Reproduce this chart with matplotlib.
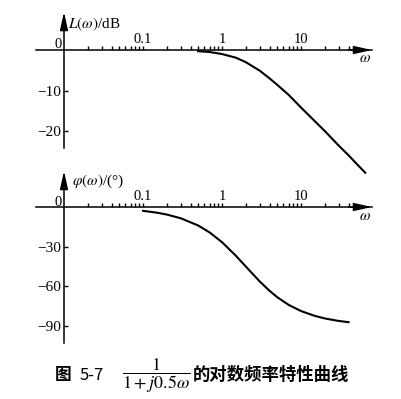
import numpy as np
import matplotlib
matplotlib.use("Agg")
import matplotlib.pyplot as plt
from matplotlib.ticker import NullFormatter

plt.rcParams["font.family"] = ["Liberation Serif", "DejaVu Serif"]
plt.rcParams["mathtext.fontset"] = "stix"

# --- values ----------------------------------------------------------
w_mag = [0.5, 0.7, 1, 1.5, 2, 3, 4, 5, 7, 10, 15, 20, 30, 40, 50, 65]
L_db = [-0.3, -0.5, -1.0, -1.9, -3.0, -5.1, -7.0, -8.6, -11.1, -14.2,
        -17.6, -20.0, -23.6, -26.0, -28.0, -30.3]

w_ph = [0.1, 0.15, 0.2, 0.3, 0.5, 0.7, 1, 1.5, 2, 3, 4, 5, 7, 10, 15, 20, 30, 40]
phi_deg = [-2.9, -4.3, -5.7, -8.5, -14.0, -19.3, -26.6, -36.9, -45.0, -56.3,
           -63.4, -68.2, -74.1, -78.7, -82.4, -84.3, -86.2, -87.1]

w_major = [0.1, 1, 10]
w_major_labels = ["0.1", "1", "10"]
w_minor = [m * 10.0 ** e for e in (-2, -1, 0, 1) for m in range(2, 10) if m * 10.0 ** e <= 40]

L_ticks = [-20, -10]
L_tick_labels = ["\u221220", "\u221210"]
phi_ticks = [-90, -60, -30]
phi_tick_labels = ["\u221290", "\u221260", "\u221230"]

# --- layout helpers (pixel coords of the 401x399 picture) -------------
W, H = 401, 399
X0_PX, DEC_PX = 64, 79  # omega = 0.01 at x=64, one decade = 79 px


def rect(x0, y0, x1, y1):
    return [x0 / W, 1 - y1 / H, (x1 - x0) / W, (y1 - y0) / H]


def wlim(x0, x1):
    return 10 ** (-2 + (x0 - X0_PX) / DEC_PX), 10 ** (-2 + (x1 - X0_PX) / DEC_PX)


def ftext(x, y, s, **kw):
    fig.text(x / W, 1 - y / H, s, **kw)


fig = plt.figure(figsize=(W / 100, H / 100), dpi=100)

arrow = dict(arrowstyle="-|>,head_length=0.9,head_width=0.2", color="k",
             lw=1.1, mutation_scale=12, shrinkA=0, shrinkB=0)


def setup(ax, yticks, ylabels, ybottom):
    ax.set_xscale("log")
    ax.patch.set_visible(False)
    for s in ("right", "bottom"):
        ax.spines[s].set_visible(False)
    ax.spines["top"].set_position(("data", 0))
    ax.spines["left"].set_position(("data", 0.01))
    ax.spines["top"].set_linewidth(1.1)
    ax.spines["left"].set_linewidth(1.1)
    ax.spines["left"].set_bounds(ybottom, ax.get_ylim()[1] * 0.9)
    ax.xaxis.tick_top()
    ax.set_xticks(w_major)
    ax.set_xticklabels(w_major_labels)
    ax.set_xticks(w_minor, minor=True)
    ax.xaxis.set_minor_formatter(NullFormatter())
    ax.tick_params(axis="x", which="both", direction="out", length=3, width=1,
                   pad=0, labelsize=10.5)
    ax.set_yticks(yticks)
    ax.set_yticklabels(ylabels)
    ax.tick_params(axis="y", direction="in", length=3, width=1, pad=2, labelsize=11)
    ax.annotate("", xy=(1, 0), xycoords=("axes fraction", "data"),
                xytext=(0.93, 0), textcoords=("axes fraction", "data"),
                arrowprops=arrow, annotation_clip=False)
    ax.annotate("", xy=(0.01, 1), xycoords=("data", "axes fraction"),
                xytext=(0.01, 0.9), textcoords=("data", "axes fraction"),
                arrowprops=arrow, annotation_clip=False)


# --- magnitude ----------------------------------------------------------
ax1 = fig.add_axes(rect(36, 12, 372, 178))
ax1.set_xlim(*wlim(36, 372))
ax1.set_ylim(-(178 - 50) / 4.05, (50 - 12) / 4.05)
ax1.plot(w_mag, L_db, color="k", lw=1.5, clip_on=False)
setup(ax1, L_ticks, L_tick_labels, -24.2)

# --- phase ----------------------------------------------------------------
ax2 = fig.add_axes(rect(36, 171, 372, 344))
ax2.set_xlim(*wlim(36, 372))
ax2.set_ylim(-(344 - 207) / 1.322, (207 - 171) / 1.322)
ax2.plot(w_ph, phi_deg, color="k", lw=1.5, clip_on=False)
setup(ax2, phi_ticks, phi_tick_labels, -103)

# --- labels ---------------------------------------------------------------
ftext(58.5, 44, "0", ha="center", va="center", fontsize=10.5)
ftext(58.5, 202, "0", ha="center", va="center", fontsize=10.5)
ftext(68, 24, r"$L(\omega)$/dB", ha="left", va="center", fontsize=11)
ftext(72, 181, r"$\varphi(\omega)$/(°)", ha="left", va="center", fontsize=11)
ftext(365, 58, r"$\omega$", ha="center", va="center", fontsize=11)
ftext(365, 216, r"$\omega$", ha="center", va="center", fontsize=11)

cjk = ["Noto Sans CJK SC", "DejaVu Sans"]
ftext(55, 375, "图", ha="left", va="center", family=cjk, fontsize=12, weight="bold")
ftext(80, 375, "5-7", ha="left", va="center", family=cjk, fontsize=12)
ftext(156, 376, r"$\dfrac{1}{1+j0.5\omega}$", ha="center", va="center", fontsize=13)
ftext(193, 375, "的对数频率特性曲线", ha="left", va="center", family=cjk,
      fontsize=12.5, weight="bold")

fig.savefig("out.png", dpi=100)
